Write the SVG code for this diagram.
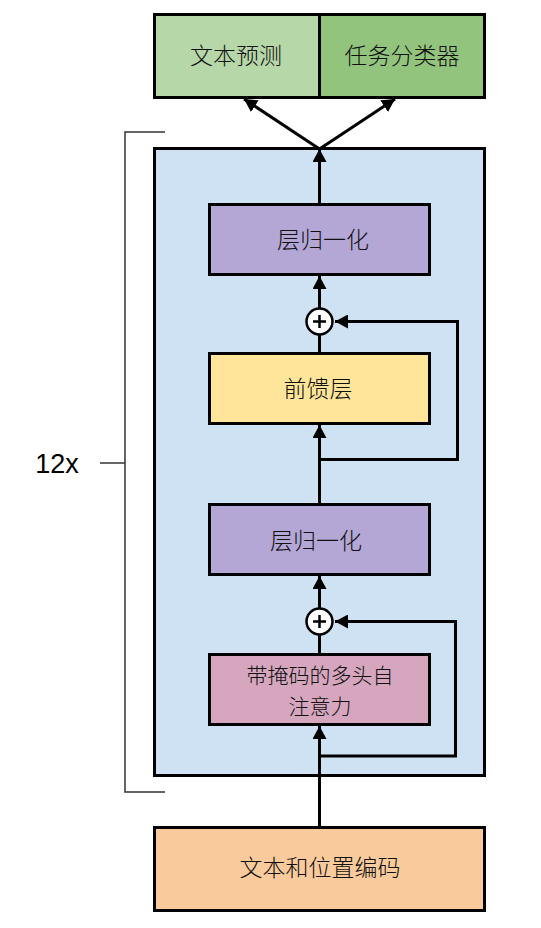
<svg xmlns="http://www.w3.org/2000/svg" width="541" height="928" viewBox="0 0 541 928">
<defs>
<marker id="ah" viewBox="0 0 13 14" refX="13" refY="7" markerWidth="13" markerHeight="14" markerUnits="userSpaceOnUse" orient="auto">
<path d="M0,0 L13,7 L0,14 Z" fill="#000"/>
</marker>
</defs>
<style>
.box{stroke:#000;stroke-width:3}
.t{font-family:"Noto Sans CJK SC","Noto Sans CJK JP",sans-serif;font-size:23px;font-weight:300;fill:#111;text-anchor:middle}
.s{font-size:21px}
.c{fill:none;stroke:#000;stroke-width:3}
.br{fill:none;stroke:#333;stroke-width:1.5}
</style>
<rect width="541" height="928" fill="#fff"/>
<g id="bracket">
<path class="br" d="M165,132 H125 V792 H165"/>
<path class="br" d="M100,463 H125"/>
<text x="57" y="473" style="font-family:'Liberation Sans',Arial,sans-serif;font-size:27px;fill:#000" text-anchor="middle">12x</text>
</g>
<g id="decoder">
<rect class="box" x="154.5" y="148.5" width="330" height="627" fill="#cfe2f3"/>
</g>
<g id="textpred">
<rect class="box" x="154.5" y="14.5" width="165" height="83" fill="#b6d7a8"/>
<text class="t" x="236" y="64">文本预测</text>
</g>
<g id="taskcls">
<rect class="box" x="319.5" y="14.5" width="165" height="83" fill="#93c47d"/>
<text class="t" x="402" y="64">任务分类器</text>
</g>
<g id="ln2">
<rect class="box" x="209.5" y="204.5" width="220" height="70" fill="#b4a7d6"/>
<text class="t" x="323" y="248">层归一化</text>
</g>
<g id="plus2">
<circle cx="319.5" cy="321.5" r="13" fill="#fff" stroke="#000" stroke-width="2.5"/>
<path d="M313,321.5 H326 M319.5,315 V328" stroke="#000" stroke-width="2.5"/>
</g>
<g id="ffn">
<rect class="box" x="209.5" y="353.5" width="220" height="70" fill="#ffe599"/>
<text class="t" x="318" y="397">前馈层</text>
</g>
<g id="ln1">
<rect class="box" x="209.5" y="504.5" width="220" height="70" fill="#b4a7d6"/>
<text class="t" x="316" y="549">层归一化</text>
</g>
<g id="plus1">
<circle cx="319.5" cy="621.5" r="13" fill="#fff" stroke="#000" stroke-width="2.5"/>
<path d="M313,621.5 H326 M319.5,615 V628" stroke="#000" stroke-width="2.5"/>
</g>
<g id="mha">
<rect class="box" x="209.5" y="654.5" width="220" height="70" fill="#d5a6bd"/>
<text class="t s" x="320" y="683">带掩码的多头自</text>
<text class="t s" x="320" y="714">注意力</text>
</g>
<g id="embed">
<rect class="box" x="154.5" y="827.5" width="330" height="83" fill="#f9cb9c"/>
<text class="t" x="320" y="876">文本和位置编码</text>
</g>
<g id="connectors">
<path class="c" d="M319.5,827 V726" marker-end="url(#ah)"/>
<path class="c" d="M319.5,756 H455.5 V621.5 H335" marker-end="url(#ah)"/>
<path class="c" d="M319.5,654 V635"/>
<path class="c" d="M319.5,608 V576" marker-end="url(#ah)"/>
<path class="c" d="M319.5,504 V425" marker-end="url(#ah)"/>
<path class="c" d="M319.5,459.5 H457.5 V321.5 H335" marker-end="url(#ah)"/>
<path class="c" d="M319.5,353 V335"/>
<path class="c" d="M319.5,308 V276" marker-end="url(#ah)"/>
<path class="c" d="M319.5,204 V149" marker-end="url(#ah)"/>
<path class="c" d="M319.5,149 L244,99" marker-end="url(#ah)"/>
<path class="c" d="M319.5,149 L395,99" marker-end="url(#ah)"/>
</g>
</svg>
